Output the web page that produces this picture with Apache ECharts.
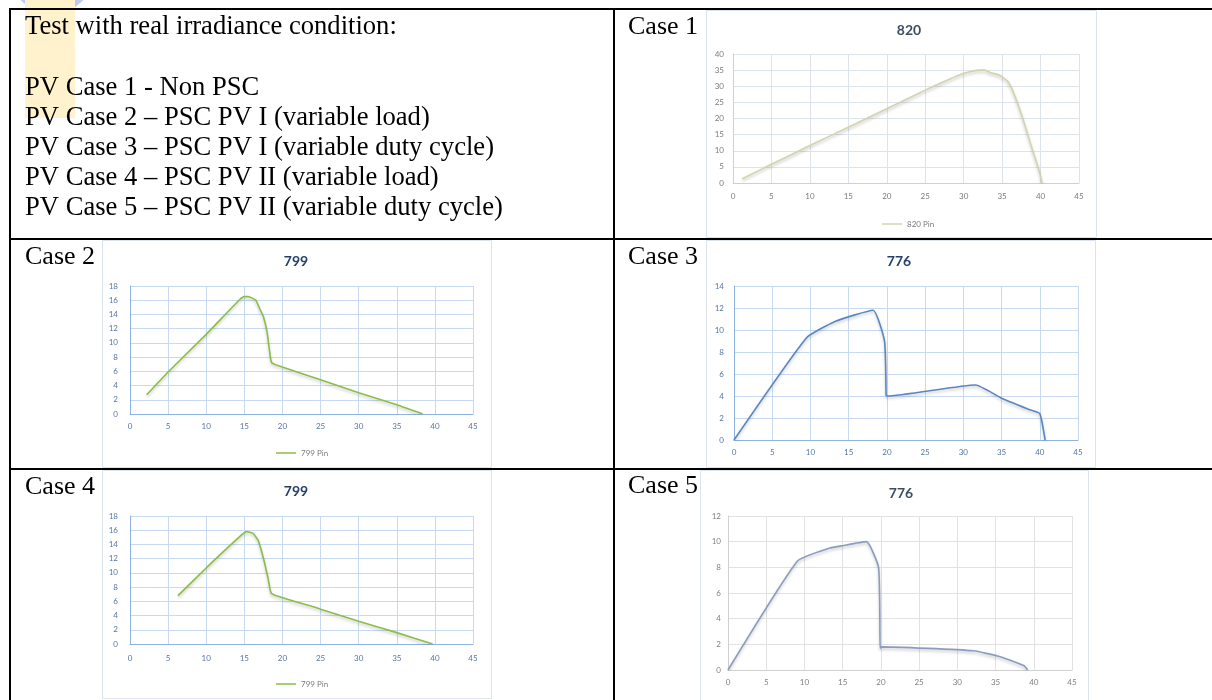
<!DOCTYPE html>
<html>
<head>
<meta charset="utf-8">
<script src="https://cdn.jsdelivr.net/npm/echarts@6/dist/echarts.min.js"></script>
<style>
html, body { margin: 0; padding: 0; background: #fff; }
#main { width: 1212px; height: 700px; }
</style>
</head>
<body>
<div id="main"></div>
<script>
// values: [voltage, power]
var case1Pin = [[1.2, 1.3], [5, 5.8], [10, 11.6], [15, 17.3], [20, 23], [25, 28.8], [28, 32], [30, 34], [31, 34.6],
    [32, 35], [32.8, 35], [33.5, 34.2], [34.7, 33.4], [35.7, 31.6], [36.4, 28.5], [37.6, 20.7], [38.8, 11.4], [39.8, 4], [40.2, 0]];
var case2Pin = [[2.2, 2.7], [5, 5.9], [9.9, 11.1], [14.5, 16.2], [15, 16.5], [15.5, 16.5], [16.5, 16.0], [17.1, 14.6],
    [17.5, 13.7], [18, 11.4], [18.4, 8.1], [18.6, 7.2], [19.2, 6.9], [25, 4.8], [30, 3.0], [35, 1.3], [38.4, 0]];
var case3Pin = [[0, 0], [9.5, 9.3], [13.3, 10.8], [18.2, 11.8], [19.7, 8.95], [19.9, 4.1], [20, 4.0], [31.6, 5.0],
    [35, 3.8], [38.7, 2.75], [40, 2.4], [40.7, 0]];
var case4Pin = [[6.3, 6.8], [10.1, 10.8], [14.5, 15.2], [15.3, 15.8], [16.1, 15.6], [16.8, 14.6], [17.5, 12.1],
    [18.1, 9.3], [18.5, 7.2], [19.2, 6.8], [25, 4.9], [30, 3.2], [35, 1.6], [39.7, 0]];
var case5Pin = [[0, 0], [9.1, 8.5], [13.3, 9.5], [14.8, 9.67], [18.1, 10.0], [19.7, 7.98], [19.9, 1.7], [20, 1.8],
    [32.1, 1.5], [35.8, 1.0], [38.7, 0.35], [39.2, 0]];

var titles = ['820', '799', '776', '799', '776'];
var seriesNames = ['820 Pin', '799 Pin', '776', '799 Pin', '776 Pin'];
var yMax = [40, 18, 14, 18, 12];
var yStep = [5, 2, 2, 2, 2];
var xMax = 45, xStep = 5;

var panels = [
    {data: case1Pin, grid: {left: 733, top: 54, width: 346, height: 129}, frame: [706, 10, 390, 227], titlePos: [909, 30],
        line: '#d2d4ac', split: '#dde3ea', label: '#7b7b7b', axis: '#cdd1d6', title: '#3c4d60', xm: 9, ym: 9},
    {data: case2Pin, grid: {left: 130, top: 286, width: 343, height: 128}, frame: [102, 240, 389, 227], titlePos: [296, 261],
        line: '#8cbd4a', split: '#c6d9f0', label: '#5575a5', axis: '#8db3e2', title: '#24406a', xm: 8, ym: 12},
    {data: case3Pin, grid: {left: 734, top: 286, width: 344, height: 154}, frame: [706, 240, 389, 227], titlePos: [899, 261],
        line: '#5a86c3', split: '#c6d9f0', label: '#5575a5', axis: '#8db3e2', title: '#24406a', xm: 8, ym: 10},
    {data: case4Pin, grid: {left: 130, top: 516, width: 343, height: 128}, frame: [102, 470, 389, 228], titlePos: [296, 491],
        line: '#8cbd4a', split: '#c6d9f0', label: '#5575a5', axis: '#8db3e2', title: '#24406a', xm: 10, ym: 12},
    {data: case5Pin, grid: {left: 728, top: 516, width: 344, height: 154}, frame: [700, 470, 388, 232], titlePos: [901, 493],
        line: '#8b9cbf', split: '#e2e2e2', label: '#7f7f7f', axis: '#d0d0d0', title: '#3c4d60', xm: 8, ym: 7}
];

var grids = [], xAxes = [], yAxes = [], series = [];
panels.forEach(function (p, i) {
    grids.push(p.grid);
    xAxes.push({
        type: 'value', gridIndex: i, min: 0, max: xMax, interval: xStep,
        axisLine: {show: true, lineStyle: {color: p.axis, width: 1}},
        axisTick: {show: false},
        axisLabel: {fontSize: 8, color: p.label, margin: p.xm, fontFamily: 'Lato'},
        splitLine: {show: true, lineStyle: {color: p.split, width: 1}}
    });
    yAxes.push({
        type: 'value', gridIndex: i, min: 0, max: yMax[i], interval: yStep[i],
        axisLine: {show: true, lineStyle: {color: p.axis, width: 1}},
        axisTick: {show: false},
        axisLabel: {fontSize: 8, color: p.label, margin: p.ym, fontFamily: 'Lato'},
        splitLine: {show: true, lineStyle: {color: p.split, width: 1}}
    });
    series.push({
        name: seriesNames[i], type: 'line', xAxisIndex: i, yAxisIndex: i,
        data: p.data, showSymbol: false, symbol: 'none', smooth: 0.15,
        lineStyle: {color: p.line, width: 1.6, shadowColor: 'rgba(0,0,0,0.22)', shadowBlur: 3, shadowOffsetY: 2},
        itemStyle: {color: p.line}
    });
});

var graphics = [];
// highlight marks behind the first words
graphics.push({type: 'circle', shape: {cx: 52, cy: -28, r: 42}, style: {fill: '#bccbec'}, z: 1});
graphics.push({type: 'rect', shape: {x: 25, y: 0, width: 50, height: 118}, style: {fill: '#fff2cc'}, z: 1});

// chart frames
panels.forEach(function (p, i) {
    graphics.push({type: 'rect', shape: {x: p.frame[0] + 0.5, y: p.frame[1] + 0.5, width: p.frame[2], height: p.frame[3]},
        style: {fill: 'transparent', stroke: '#dbe3ee', lineWidth: 1}, z: 1});
    graphics.push({type: 'text', x: p.titlePos[0], y: p.titlePos[1], z: 5,
        style: {text: titles[i], font: 'bold 14px Lato', fill: p.title, textAlign: 'center', textVerticalAlign: 'middle', verticalAlign: 'middle'}});
});

// table rules
var rule = {stroke: '#000', lineWidth: 2};
[[9, 9, 1212, 9], [9, 239, 1212, 239], [9, 469, 1212, 469], [10, 8, 10, 700], [614, 8, 614, 700]].forEach(function (l) {
    graphics.push({type: 'line', shape: {x1: l[0], y1: l[1], x2: l[2], y2: l[3]}, style: rule, z: 10});
});

// cell text
var bodyLines = [
    ['Test with real irradiance condition:', 27],
    ['PV Case 1 - Non PSC', 88],
    ['PV Case 2 \u2013 PSC PV I (variable load)', 118],
    ['PV Case 3 \u2013 PSC PV I (variable duty cycle)', 148],
    ['PV Case 4 \u2013 PSC PV II (variable load)', 178],
    ['PV Case 5 \u2013 PSC PV II (variable duty cycle)', 208]
];
var caseLabels = [['Case 1', 628, 27], ['Case 2', 25, 257], ['Case 3', 628, 257], ['Case 4', 25, 487], ['Case 5', 628, 486]];
bodyLines.forEach(function (t) {
    graphics.push({type: 'text', x: 25, y: t[1], z: 5,
        style: {text: t[0], font: '26.6px "Liberation Serif"', fill: '#000', textVerticalAlign: 'middle', verticalAlign: 'middle'}});
});
caseLabels.forEach(function (t) {
    graphics.push({type: 'text', x: t[1], y: t[2], z: 5,
        style: {text: t[0], font: '26px "Liberation Serif"', fill: '#000', textVerticalAlign: 'middle', verticalAlign: 'middle'}});
});

var legendBase = {orient: 'horizontal', icon: 'rect', itemWidth: 20, itemHeight: 1.5, itemGap: 4, selectedMode: false,
    textStyle: {fontSize: 8, color: '#7b7b7b', fontFamily: 'Lato'}};
var legends = [
    Object.assign({}, legendBase, {data: ['820 Pin'], left: 877, top: 215}),
    Object.assign({}, legendBase, {data: ['799 Pin'], left: 271, top: 444}),
    Object.assign({}, legendBase, {data: ['799 Pin'], left: 271, top: 675})
];

var chart = echarts.init(document.getElementById('main'));
var option = {
    backgroundColor: '#fff',
    animation: false,
    grid: grids,
    xAxis: xAxes,
    yAxis: yAxes,
    legend: legends,
    series: series,
    graphic: graphics
};
chart.setOption(option, true);
</script>
</body>
</html>
